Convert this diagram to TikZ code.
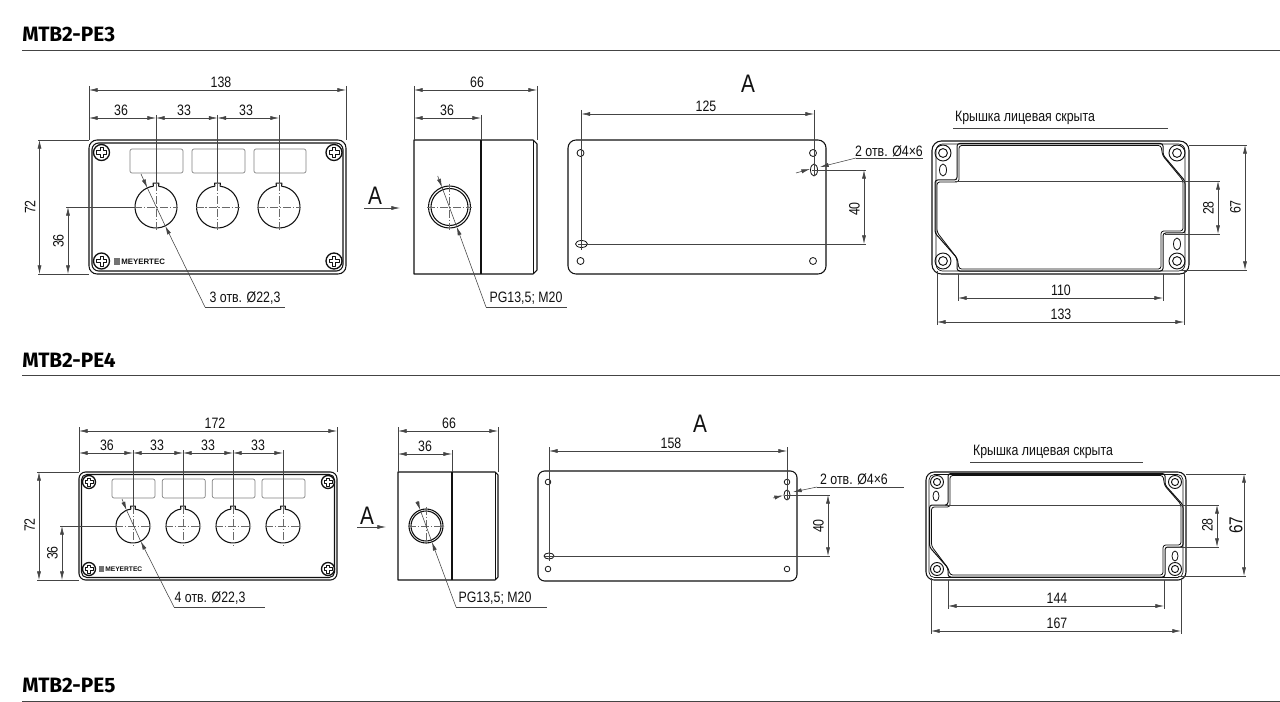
\documentclass[tikz,border=0pt]{standalone}
\usepackage{fontspec}
\setmainfont[FakeStretch=0.82]{Liberation Sans}
\newfontfamily\headfont[Scale=1]{Fira Sans}
\newfontfamily\logofont{Liberation Sans}
\usetikzlibrary{arrows.meta,calc}
\definecolor{ink}{HTML}{111111}
\definecolor{thinink}{HTML}{444444}
\tikzset{
  part/.style={draw=ink,line width=0.8pt,line join=round},
  fine/.style={draw=thinink,line width=0.42pt},
  windowbox/.style={draw=black!50,line width=0.5pt,rounded corners=1.5pt},
  centreline/.style={draw=thinink!80,line width=0.4pt,dash pattern=on 6pt off 1.4pt on 1pt off 1.4pt},
  dimline/.style={draw=thinink,line width=0.42pt,{Latex[length=6.5pt,width=3pt]}-{Latex[length=6.5pt,width=3pt]}},
  leaderhead/.style={draw=thinink,line width=0.42pt,-{Latex[length=6.5pt,width=3pt]}},
  dimtext/.style={font=\fontsize{11.3}{13}\selectfont,text=ink,inner sep=0pt},
  bigtext/.style={font=\fontsize{19}{21}\selectfont,text=ink,inner sep=0pt},
  headtext/.style={font=\headfont\bfseries\fontsize{15.6}{17}\selectfont,text=black,inner sep=0pt,anchor=west},
}
\newcounter{lblno}
\newcommand{\lbl}[3][dimtext]{\stepcounter{lblno}\node[#1] (t\thelblno) at (#2) {#3};}
\newcommand{\hdim}[5]{% x1 x2 y textx label
  \draw[dimline] (#1,#3)--(#2,#3);\lbl{#4,#3-8}{#5}}
\newcommand{\vdim}[5]{% y1 y2 x texty label
  \draw[dimline] (#3,#1)--(#3,#2);\stepcounter{lblno}\node[dimtext,rotate=90] (t\thelblno) at (#3-9.5,#4) {#5};}
\newcommand{\vext}[3]{\draw[fine] (#1,#2)--(#1,#3);}
\newcommand{\hext}[3]{\draw[fine] (#1,#3)--(#2,#3);}
% key hole: x y r
\newcommand{\keyhole}[3]{%
  \draw[part] (#1,#2) +(-97:#3) -- +(-97:#3+3) -- +(-83:#3+3) -- +(-83:#3) arc[start angle=-83,end angle=263,radius=#3];
  \draw[centreline] (#1-#3-1,#2)--(#1+#3+1,#2);
  \draw[centreline] (#1,#2-#3-3)--(#1,#2+#3+3);}
% screw: x y r
\newcommand{\screw}[3]{%
  \draw[part,line width=1pt] (#1,#2) circle (#3);
  \pgfmathsetmacro{\armL}{#3*0.62}\pgfmathsetmacro{\armW}{#3*0.2}
  \draw[part,line width=0.6pt] (#1-\armW,#2-\armL)--(#1+\armW,#2-\armL)--(#1+\armW,#2-\armW)--(#1+\armL,#2-\armW)--(#1+\armL,#2+\armW)--(#1+\armW,#2+\armW)--(#1+\armW,#2+\armL)--(#1-\armW,#2+\armL)--(#1-\armW,#2+\armW)--(#1-\armL,#2+\armW)--(#1-\armL,#2-\armW)--(#1-\armW,#2-\armW)--cycle;}
% boss: x y r
\newcommand{\boss}[3]{\draw[part,line width=0.7pt] (#1,#2) circle (#3);\draw[part,line width=0.7pt] (#1,#2) circle (#3*0.55);}
% leader: start centre radius corner end
\newcommand{\leader}[5]{%
  \coordinate (la) at ($(#2)!#3*0.75pt!(#1)$);
  \coordinate (lb) at ($(#2)!#3*0.75pt!(#4)$);
  \draw[leaderhead] (#1)--(la);
  \draw[fine] (la)--(lb);
  \draw[leaderhead] (#4)--(lb);
  \draw[fine] (#4)--(#5);}
\begin{document}
\begin{tikzpicture}[x=0.75pt,y=-0.75pt]
\useasboundingbox[fill=white] (0,0) rectangle (1280,702);
% headers
\lbl[headtext]{22,34}{MTB2-PE3}
\lbl[headtext]{22,360}{MTB2-PE4}
\lbl[headtext]{22,685}{MTB2-PE5}
\draw[thinink,line width=0.55pt] (22,50)--(1280,50);
\draw[thinink,line width=0.55pt] (22,375)--(1280,375);
\draw[thinink,line width=0.55pt] (22,701)--(1280,701);

%%%%% PE3 front
\draw[part,rounded corners=6pt] (89,140) rectangle (346,274);
\draw[part,rounded corners=5pt] (92,143) rectangle (343,271);
\foreach \a/\b in {130/183,192/245,254/306}{\draw[windowbox] (\a,149) rectangle (\b,173);}
\foreach \x in {156,217.5,279}{\keyhole{\x}{207}{21}}
\foreach \x/\y in {101.5/152.5,334/152.5,101.5/261,334/261}{\screw{\x}{\y}{8}}
\fill[black!55] (113.5,258) rectangle (120,264.5);
\lbl[font=\logofont\bfseries\fontsize{5.9}{6}\selectfont,text=ink,inner sep=0pt,anchor=west]{121,261.3}{MEYERTEC}
\vext{89}{86}{140}\vext{346}{86}{140}\vext{156}{115}{183}\vext{217.5}{115}{183}\vext{279}{115}{183}
\hdim{89}{346}{90}{221}{138}
\hdim{89}{156}{118}{121}{36}
\hdim{156}{217.5}{118}{184}{33}
\hdim{217.5}{279}{118}{246}{33}
\hext{38}{89}{140}\hext{38}{89}{274}\hext{66}{135}{207}
\vdim{140}{274}{39.5}{207}{72}
\vdim{207}{274}{68}{241}{36}
\leader{141,174}{156,207}{21}{205,307}{285,307}
\lbl{245,298}{3 отв. Ø22,3}

%%%%% PE3 side
\draw[part] (414,140)--(533,140)--(537,144)--(537,270)--(533,274)--(414,274)--cycle;
\draw[part,line width=0.6pt] (533,140)--(533,274);
\draw[part] (481,140)--(481,274);
\draw[part] (449.5,207) circle (21);
\draw[part] (449.5,207) circle (18.5);
\draw[centreline] (427,207)--(472,207);
\draw[centreline] (449.5,184)--(449.5,230);
\vext{414}{86}{140}\vext{537}{86}{140}\vext{481}{115}{140}
\hdim{414}{537}{90}{477}{66}
\hdim{414}{481}{118}{447}{36}
\draw[leaderhead] (364,208)--(400,208);
\lbl[bigtext]{375,196}{A}
\leader{437.7,176}{449.5,207}{21}{486,307}{567,307}
\lbl{526,298}{PG13,5; M20}

%%%%% PE3 back
\draw[part,rounded corners=6pt] (568,140) rectangle (826,274);
\foreach \x/\y in {580.5/153,813/153,580.5/261,813/261}{\draw[part,line width=0.6pt] (\x,\y) circle (3.5);}
\draw[part,line width=0.6pt] (814,170) ellipse [x radius=3.5,y radius=6];
\draw[part,line width=0.6pt] (581.5,244) ellipse [x radius=6,y radius=3.5];
\vext{581.5}{110}{250}\vext{814}{110}{176}
\hdim{581.5}{814}{114}{706}{125}
\hext{578}{866}{244}\hext{812}{866}{170}
\vdim{170}{244}{864}{209}{40}
\lbl[bigtext]{748,84}{A}
\draw[leaderhead] (856,158)--(820,167);
\draw[fine] (856,158)--(923,158);
\draw[leaderhead] (796,173)--(810,169);
\lbl{889,151}{2 отв. Ø4×6}

%%%%% PE3 cover
\draw[part,rounded corners=7pt] (932,141) rectangle (1189,274);
\draw[part,line width=0.5pt,rounded corners=5pt] (936,144) rectangle (1185,271);
\foreach \o/\w in {0/0.75pt,2/0.6pt}{
\draw[part,line width=\w,rounded corners=2pt] (935+\o,180+\o)--(935+\o,233-\o*0.4)--(957+\o*0.2,258+\o*0.3)--(957+\o,271-\o)--(1163-\o,271-\o)--(1163-\o,233-\o)--(1185-\o,233-\o)--(1185-\o,181-\o*0.3)--(1163-\o*0.2,155+\o*0.3)--(1163-\o,143.5+\o)--(957+\o,143.5+\o)--(957+\o,180+\o)--cycle;}
\foreach \x/\y in {943/153,1177/153,943/261,1177/261}{\boss{\x}{\y}{8}}
\draw[part,line width=0.6pt] (943,170) ellipse [x radius=3.5,y radius=6];
\draw[part,line width=0.6pt] (1177,244) ellipse [x radius=3.5,y radius=6];
\lbl{1025,118}{Крышка лицевая скрыта}
\draw[fine] (953,128)--(1168,128);
\hext{955}{1220}{181}\hext{1165}{1220}{234}
\hext{1189}{1247}{145}\hext{1180}{1247}{270}
\vdim{181}{234}{1218}{208}{28}
\vdim{145}{270}{1245}{207}{67}
\vext{958}{274}{301}\vext{1163}{274}{301}\vext{937}{271}{325}\vext{1184}{271}{325}
\hdim{958}{1163}{298}{1061}{110}
\hdim{937}{1184}{322}{1061}{133}

%%%%% PE4 front
\draw[part,rounded corners=5pt] (79,472) rectangle (337,580);
\draw[part,rounded corners=4pt] (81.5,474.5) rectangle (334.5,577.5);
\foreach \a/\b in {112/155,162.3/205.3,212.3/255,262/305}{\draw[windowbox] (\a,479) rectangle (\b,498);}
\foreach \x in {133,183,233,283}{\keyhole{\x}{526}{17}}
\foreach \x/\y in {89/482,328/482,89/569,328/569}{\screw{\x}{\y}{6.5}}
\fill[black!55] (98.5,566) rectangle (104,571.5);
\lbl[font=\logofont\bfseries\fontsize{5}{6}\selectfont,text=ink,inner sep=0pt,anchor=west]{105,569.2}{MEYERTEC}
\vext{79}{427}{472}\vext{337}{427}{472}\vext{133}{450}{506}\vext{183}{450}{506}\vext{233}{450}{506}\vext{283}{450}{506}
\hdim{79}{337}{431}{215}{172}
\hdim{79}{133}{453}{107}{36}
\hdim{133}{183}{453}{157}{33}
\hdim{183}{233}{453}{208}{33}
\hdim{233}{283}{453}{258}{33}
\hext{37}{79}{472}\hext{37}{79}{580}\hext{60}{116}{526}
\vdim{472}{580}{39}{525}{72}
\vdim{526}{580}{62}{553}{36}
\leader{122,499}{133,526}{17}{174,607}{265,607}
\lbl{210,598}{4 отв. Ø22,3}

%%%%% PE4 side
\draw[part] (398,472)--(495,472)--(498,475)--(498,577)--(495,580)--(398,580)--cycle;
\draw[part,line width=0.6pt] (495,472)--(495,580);
\draw[part] (452,472)--(452,580);
\draw[part] (426,526) circle (17);
\draw[part] (426,526) circle (15);
\draw[centreline] (408,526)--(444,526);
\draw[centreline] (426,507)--(426,545);
\vext{398}{427}{472}\vext{498}{427}{472}\vext{452}{450}{472}
\hdim{398}{498}{431}{449}{66}
\hdim{398}{452}{454}{425}{36}
\draw[leaderhead] (357,527)--(386,527);
\lbl[bigtext]{367,516}{A}
\leader{417,501}{426,526}{17}{456,607}{547,607}
\lbl{495,598}{PG13,5; M20}

%%%%% PE4 back
\draw[part,rounded corners=5pt] (538,471) rectangle (797,581);
\foreach \x/\y in {548/482,787/482,548/569,787/569}{\draw[part,line width=0.6pt] (\x,\y) circle (2.8);}
\draw[part,line width=0.6pt] (787,495) ellipse [x radius=3,y radius=5];
\draw[part,line width=0.6pt] (549,556) ellipse [x radius=5,y radius=3];
\vext{549}{447}{561}\vext{787}{447}{500}
\hdim{549}{787}{451}{671}{158}
\hext{545}{830}{556}\hext{785}{830}{495}
\vdim{495}{556}{828}{526}{40}
\lbl[bigtext]{700,424}{A}
\draw[leaderhead] (817,487)--(793,492);
\draw[fine] (817,487)--(904,487);
\draw[leaderhead] (773,498)--(783,495.5);
\lbl{854,479}{2 отв. Ø4×6}

%%%%% PE4 cover
\draw[part,rounded corners=6pt] (926,472) rectangle (1186,580);
\draw[part,line width=0.5pt,rounded corners=4pt] (929,474.5) rectangle (1183,577.5);
\foreach \o/\w in {0/0.75pt,2/0.6pt}{
\draw[part,line width=\w,rounded corners=2pt] (929.5+\o,505+\o)--(929.5+\o,547-\o*0.4)--(948+\o*0.2,568+\o*0.3)--(948+\o,577-\o)--(1165-\o,577-\o)--(1165-\o,547-\o)--(1183-\o,547-\o)--(1183-\o,505-\o*0.3)--(1165-\o*0.2,485+\o*0.3)--(1165-\o,473.5+\o)--(948+\o,473.5+\o)--(948+\o,505+\o)--cycle;}
\foreach \x/\y in {937/482,1175/482,937/569,1175/569}{\boss{\x}{\y}{6.5}}
\draw[part,line width=0.6pt] (936,496) ellipse [x radius=3,y radius=5];
\draw[part,line width=0.6pt] (1175,556) ellipse [x radius=3,y radius=5];
\lbl{1043,452}{Крышка лицевая скрыта}
\draw[fine] (970,462)--(1143,462);
\hext{945}{1219}{505}\hext{1167}{1219}{547}
\hext{1186}{1246}{474}\hext{1178}{1246}{576}
\vdim{505}{547}{1217}{525}{28}
\draw[dimline] (1244,474)--(1244,576);
\stepcounter{lblno}\node[dimtext,font=\fontsize{14}{15}\selectfont,rotate=90] (t\thelblno) at (1236,525) {67};
\vext{948}{580}{609}\vext{1164}{580}{609}\vext{931}{578}{634}\vext{1181}{578}{634}
\hdim{948}{1164}{606}{1057}{144}
\hdim{931}{1181}{631}{1057}{167}
\end{tikzpicture}
\end{document}
